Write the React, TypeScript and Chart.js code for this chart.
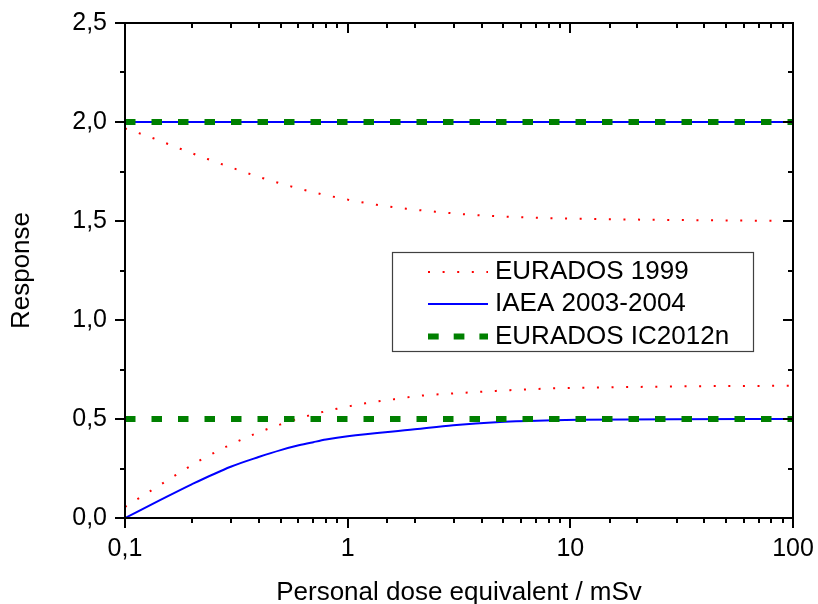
import React, { useEffect, useRef } from 'react';
import { Chart, registerables } from 'chart.js';

Chart.register(...registerables);

const FONT = '"Liberation Sans", Arial, Helvetica, sans-serif';

// ---- Axis ranges and labels ----
const xMin = 0.1;
const xMax = 100;
const yMin = 0;
const yMax = 2.5;
const xTitle = 'Personal dose equivalent / mSv';
const yTitle = 'Response';
const seriesNames = ['EURADOS 1999', 'IAEA 2003-2004', 'EURADOS IC2012n'];
const seriesColors = ['#ff0000', '#0000ff', '#008000'];

// ---- EURADOS 1999 (red dotted trumpet) ----
const eur99UpperX = [0.1, 0.134, 0.177, 0.235, 0.313, 0.417, 0.556, 0.748, 1.0, 1.35, 1.83, 2.47, 3.34, 4.51, 6.11, 8.24, 12, 20, 47, 100];
const eur99UpperY = [1.968, 1.918, 1.865, 1.813, 1.763, 1.716, 1.675, 1.638, 1.608, 1.582, 1.562, 1.547, 1.534, 1.525, 1.519, 1.514, 1.511, 1.507, 1.503, 1.5];
const eur99LowerX = [0.1, 0.1299, 0.168, 0.218, 0.285, 0.376, 0.5, 0.668, 0.896, 1.2, 1.62, 2.19, 2.96, 4.01, 5.43, 8.53, 15.6, 33.1, 100];
const eur99LowerY = [0.056, 0.136, 0.215, 0.292, 0.36, 0.421, 0.473, 0.517, 0.552, 0.579, 0.6, 0.619, 0.629, 0.638, 0.646, 0.655, 0.66, 0.665, 0.668];

// ---- IAEA 2003-2004 (blue solid) ----
const iaeaUpperX = [0.1, 100];
const iaeaUpperY = [2.0, 2.0];
const iaeaLowerX = [0.1, 0.1436, 0.1993, 0.2983, 0.398, 0.5, 0.603, 0.701, 0.799, 1.0, 2.0, 2.98, 4.83, 8.4, 11, 29, 100];
const iaeaLowerY = [0.0, 0.09, 0.17, 0.259, 0.308, 0.343, 0.367, 0.383, 0.396, 0.413, 0.448, 0.469, 0.485, 0.494, 0.496, 0.499, 0.5];

// ---- EURADOS IC2012n (green dashed) ----
const ic2012UpperX = [0.1, 100];
const ic2012UpperY = [2.0, 2.0];
const ic2012LowerX = [0.1, 100];
const ic2012LowerY = [0.5, 0.5];

const toPoints = (xs: number[], ys: number[]) => xs.map((x, i) => ({ x, y: ys[i] }));

const styles = [
  { borderColor: seriesColors[0], borderWidth: 2, borderDash: [2, 12.6], borderCapStyle: 'butt' as const },
  { borderColor: seriesColors[1], borderWidth: 2, borderDash: [] as number[], borderCapStyle: 'butt' as const },
  { borderColor: seriesColors[2], borderWidth: 6, borderDash: [10.5, 16], borderCapStyle: 'butt' as const },
];

const isPow10 = (v: number) => {
  const l = Math.log10(v);
  return Math.abs(l - Math.round(l)) < 1e-9;
};

const fmt = (v: number, digits: number) => v.toFixed(digits).replace('.', ',');

const framePlugin = {
  id: 'framePlugin',
  afterDatasetsDraw(chart: any) {
    const { ctx, chartArea: a, scales } = chart;
    const xs = scales.x;
    const ys = scales.y;
    ctx.save();
    ctx.strokeStyle = '#000';
    ctx.lineWidth = 2;
    ctx.lineCap = 'butt';
    ctx.setLineDash([]);
    ctx.strokeRect(a.left, a.top, a.right - a.left, a.bottom - a.top);
    const seg = (x1: number, y1: number, x2: number, y2: number) => {
      ctx.beginPath();
      ctx.moveTo(x1, y1);
      ctx.lineTo(x2, y2);
      ctx.stroke();
    };
    xs.ticks.forEach((t: any) => {
      const v = t.value;
      if (v < xMin - 1e-9 || v > xMax + 1e-9) return;
      const px = Math.round(xs.getPixelForValue(v));
      const len = isPow10(v) ? 10 : 5;
      seg(px, a.bottom, px, a.bottom + len);
      seg(px, a.top, px, a.top + len);
    });
    ys.ticks.forEach((t: any) => {
      const v = t.value;
      const py = Math.round(ys.getPixelForValue(v));
      const major = Math.abs(v / 0.5 - Math.round(v / 0.5)) < 1e-6;
      const len = major ? 10 : 5;
      seg(a.left - len, py, a.left, py);
      seg(a.right - len, py, a.right, py);
    });
    ctx.restore();
  },
  afterDraw(chart: any) {
    const { ctx } = chart;
    ctx.save();
    const bx = 392.5, by = 252.5, bw = 361, bh = 99;
    ctx.fillStyle = '#fff';
    ctx.fillRect(bx, by, bw, bh);
    ctx.strokeStyle = '#404040';
    ctx.lineWidth = 1.2;
    ctx.setLineDash([]);
    ctx.strokeRect(bx, by, bw, bh);
    const rows = [272, 304, 336.5];
    seriesNames.forEach((name, i) => {
      const s = styles[i];
      const y = rows[i];
      ctx.beginPath();
      ctx.strokeStyle = s.borderColor;
      ctx.lineWidth = s.borderWidth;
      ctx.lineCap = 'butt';
      ctx.setLineDash(i === 2 ? [10.7, 15] : s.borderDash);
      ctx.moveTo(428, y);
      ctx.lineTo(488, y);
      ctx.stroke();
      ctx.setLineDash([]);
      ctx.fillStyle = '#000';
      ctx.font = `26px ${FONT}`;
      ctx.textAlign = 'left';
      ctx.textBaseline = 'middle';
      ctx.fillText(name, 495, y);
    });
    ctx.restore();
  },
};

export default function App() {
  const ref = useRef<HTMLCanvasElement | null>(null);

  useEffect(() => {
    if (!ref.current) return;
    const mk = (label: string, xs: number[], ys: number[], si: number, order: number, curve: boolean) => ({
      label,
      data: toPoints(xs, ys),
      ...styles[si],
      fill: false,
      pointRadius: 0,
      pointHoverRadius: 0,
      cubicInterpolationMode: curve ? ('monotone' as const) : ('default' as const),
      order,
    });
    const chart = new Chart(ref.current, {
      type: 'line',
      data: {
        datasets: [
          mk(seriesNames[0], eur99UpperX, eur99UpperY, 0, 1, true),
          mk(seriesNames[0], eur99LowerX, eur99LowerY, 0, 1, true),
          mk(seriesNames[1], iaeaUpperX, iaeaUpperY, 1, 2, false),
          mk(seriesNames[1], iaeaLowerX, iaeaLowerY, 1, 2, true),
          mk(seriesNames[2], ic2012UpperX, ic2012UpperY, 2, 0, false),
          mk(seriesNames[2], ic2012LowerX, ic2012LowerY, 2, 0, false),
        ],
      },
      options: {
        responsive: false,
        animation: false,
        devicePixelRatio: 1,
        layout: { padding: { top: 23, right: 25, left: 0, bottom: 0 } },
        plugins: {
          legend: { display: false },
          tooltip: { enabled: false },
          title: { display: false },
        },
        scales: {
          x: {
            type: 'logarithmic',
            min: xMin,
            max: xMax,
            grid: { display: false, drawTicks: false },
            border: { display: false },
            afterFit: (scale: any) => {
              scale.height = 86;
              scale.paddingLeft = 0;
              scale.paddingRight = 0;
            },
            ticks: {
              autoSkip: false,
              maxRotation: 0,
              minRotation: 0,
              padding: 16,
              color: '#000',
              font: { family: FONT, size: 25 },
              callback: (value: any) => {
                const v = Number(value);
                if (!isPow10(v)) return '';
                return v < 1 ? fmt(v, 1) : String(Math.round(v));
              },
            },
            title: {
              display: true,
              text: xTitle,
              color: '#000',
              font: { family: FONT, size: 26, lineHeight: 1.0 },
              padding: { top: 0, bottom: -2 },
            },
          },
          y: {
            type: 'linear',
            min: yMin,
            max: yMax,
            grid: { display: false, drawTicks: false },
            border: { display: false },
            afterFit: (scale: any) => {
              scale.width = 125;
              scale.paddingTop = 0;
              scale.paddingBottom = 0;
            },
            ticks: {
              stepSize: 0.25,
              autoSkip: false,
              padding: 18,
              color: '#000',
              font: { family: FONT, size: 25 },
              callback: (value: any) => {
                const v = Number(value);
                const major = Math.abs(v / 0.5 - Math.round(v / 0.5)) < 1e-6;
                return major ? fmt(v, 1) : '';
              },
            },
            title: {
              display: true,
              text: yTitle,
              color: '#000',
              font: { family: FONT, size: 26, lineHeight: 1.2 },
              padding: { top: 6, bottom: 0 },
            },
          },
        },
      },
      plugins: [framePlugin],
    } as any);
    return () => chart.destroy();
  }, []);

  return (
    <div style={{ position: 'absolute', left: 0, top: 0, width: 818, height: 604, background: '#fff' }}>
      <canvas ref={ref} width={818} height={604} style={{ display: 'block', width: 818, height: 604 }} />
    </div>
  );
}
